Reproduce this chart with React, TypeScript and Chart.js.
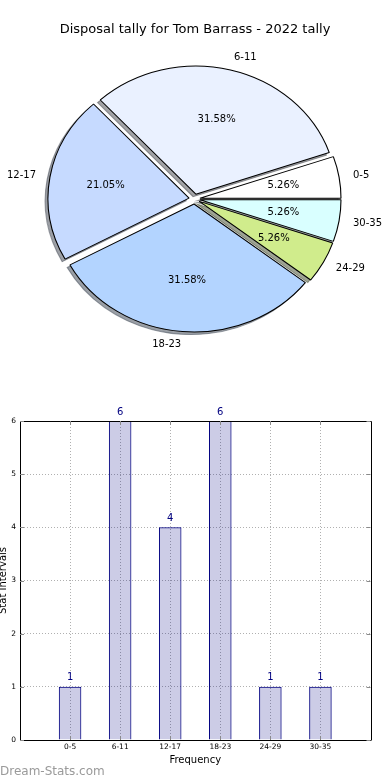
import React, { useEffect, useRef } from 'react';
import { Chart, registerables } from 'chart.js';

Chart.register(...registerables);

// ---- data ----
const TITLE = 'Disposal tally for Tom Barrass - 2022 tally';
const categories = ['0-5', '6-11', '12-17', '18-23', '24-29', '30-35'];
const counts = [1, 6, 4, 6, 1, 1];
const pieColors = ['#ffffff', '#eaf1ff', '#c6daff', '#b3d4ff', '#d0ec8c', '#d9ffff'];
const yTicks = [0, 1, 2, 3, 4, 5, 6];
const X_TITLE = 'Frequency';
const Y_TITLE = 'Stat Intervals';
const WATERMARK = 'Dream-Stats.com';

// pie is drawn counter-clockwise from east (matplotlib style): reverse for Chart.js (clockwise)
const pieLabels = [...categories].reverse();
const pieValues = [...counts].reverse();
const pieBg = [...pieColors].reverse();

// ---- style ----
const FONT = '"DejaVu Sans", "Bitstream Vera Sans", sans-serif';
const SX = 1.102; // horizontal stretch (elliptical pie)
const EXPLODE = 5;
const SHADOW_DX = -2.56;
const SHADOW_DY = 2.56;
const RADIUS = 128;

function shadowOf(hex: string) {
  const n = parseInt(hex.slice(1), 16);
  const r = (n >> 16) & 255, g = (n >> 8) & 255, b = n & 255;
  return `rgba(${Math.round(r * 0.3)},${Math.round(g * 0.3)},${Math.round(b * 0.3)},0.5)`;
}

const piePlugin = {
  id: 'mplPie',
  beforeDatasetDraw(chart: any, args: any) {
    const ctx = chart.ctx;
    const arcs = args.meta.data;
    if (!arcs.length) return false;
    const cx = arcs[0].x, cy = arcs[0].y;
    ctx.save();
    ctx.translate(cx, cy);
    ctx.scale(SX, 1);
    ctx.translate(-cx, -cy);
    arcs.forEach((a: any, i: number) => {
      const mid = (a.startAngle + a.endAngle) / 2;
      const ox = a.x + EXPLODE * Math.cos(mid) + SHADOW_DX;
      const oy = a.y + EXPLODE * Math.sin(mid) + SHADOW_DY;
      const sc = shadowOf(pieBg[i]);
      ctx.beginPath();
      ctx.moveTo(ox, oy);
      ctx.arc(ox, oy, a.outerRadius, a.startAngle, a.endAngle);
      ctx.closePath();
      ctx.fillStyle = sc;
      ctx.fill();
      ctx.strokeStyle = sc;
      ctx.lineWidth = 1;
      ctx.stroke();
    });
    arcs.forEach((a: any) => {
      const mid = (a.startAngle + a.endAngle) / 2;
      ctx.save();
      ctx.translate(EXPLODE * Math.cos(mid), EXPLODE * Math.sin(mid));
      a.draw(ctx);
      ctx.restore();
    });
    ctx.restore();
    return false;
  },
  afterDraw(chart: any) {
    const ctx = chart.ctx;
    const arcs = chart.getDatasetMeta(0).data;
    const total = pieValues.reduce((s, v) => s + v, 0);
    ctx.save();
    ctx.fillStyle = '#000';
    ctx.font = `13px ${FONT}`;
    ctx.textAlign = 'center';
    ctx.textBaseline = 'middle';
    ctx.fillText(TITLE, 195, 30);
    ctx.font = `10px ${FONT}`;
    arcs.forEach((a: any, i: number) => {
      const mid = (a.startAngle + a.endAngle) / 2;
      const c = Math.cos(mid), s = Math.sin(mid);
      const ex = EXPLODE * c, ey = EXPLODE * s;
      const R = a.outerRadius;
      const lx = a.x + SX * (ex + 1.1 * R * c);
      const ly = a.y + ey + 1.1 * R * s;
      ctx.textAlign = c > 0 ? 'left' : 'right';
      ctx.fillText(pieLabels[i], lx, ly);
      const px = a.x + SX * (ex + 0.6 * R * c);
      const py = a.y + ey + 0.6 * R * s;
      ctx.textAlign = 'center';
      ctx.fillText(((pieValues[i] / total) * 100).toFixed(2) + '%', px, py);
    });
    ctx.restore();
  },
};

const barPlugin = {
  id: 'mplBar',
  afterDraw(chart: any) {
    const ctx = chart.ctx;
    const { left, right, top, bottom } = chart.chartArea;
    const xs = chart.scales.x, ys = chart.scales.y;
    ctx.save();
    // frame top/right
    ctx.strokeStyle = '#000';
    ctx.lineWidth = 1;
    ctx.beginPath();
    ctx.moveTo(Math.round(left), Math.round(top) + 0.5);
    ctx.lineTo(Math.round(right) + 0.5, Math.round(top) + 0.5);
    ctx.lineTo(Math.round(right) + 0.5, Math.round(bottom) + 0.5);
    ctx.stroke();
    // inward ticks
    ctx.strokeStyle = '#8a8a8a';
    ctx.beginPath();
    yTicks.forEach((v) => {
      const y = Math.round(ys.getPixelForValue(v)) + 0.5;
      ctx.moveTo(left, y); ctx.lineTo(left + 4, y);
      ctx.moveTo(right, y); ctx.lineTo(right - 4, y);
    });
    categories.forEach((_, i) => {
      const x = Math.round(xs.getPixelForValue(i)) + 0.5;
      ctx.moveTo(x, top); ctx.lineTo(x, top + 4);
      ctx.moveTo(x, bottom); ctx.lineTo(x, bottom - 4);
    });
    ctx.stroke();
    // value labels
    ctx.fillStyle = '#000080';
    ctx.font = `10px ${FONT}`;
    ctx.textAlign = 'center';
    ctx.textBaseline = 'middle';
    counts.forEach((v, i) => {
      ctx.fillText(String(v), xs.getPixelForValue(i), ys.getPixelForValue(v) - 9);
    });
    // axis titles
    ctx.fillStyle = '#000';
    ctx.font = `10px ${FONT}`;
    ctx.fillText(X_TITLE, (left + right) / 2, 370);
    ctx.save();
    ctx.translate(6, (top + bottom) / 2);
    ctx.rotate(-Math.PI / 2);
    ctx.textBaseline = 'alphabetic';
    ctx.fillText(Y_TITLE, 0, 0);
    ctx.restore();
    // watermark
    ctx.fillStyle = '#9a9a9a';
    ctx.font = `12px ${FONT}`;
    ctx.textAlign = 'left';
    ctx.textBaseline = 'alphabetic';
    ctx.fillText(WATERMARK, 0, 385);
    ctx.restore();
  },
};

const borderOpts = { display: true, color: '#000', width: 1, dash: [1, 2] };

export default function App() {
  const pieRef = useRef<HTMLCanvasElement>(null);
  const barRef = useRef<HTMLCanvasElement>(null);

  useEffect(() => {
    const pie = new Chart(pieRef.current as HTMLCanvasElement, {
      type: 'pie',
      data: {
        labels: pieLabels,
        datasets: [
          {
            data: pieValues,
            backgroundColor: pieBg,
            borderColor: '#000',
            borderWidth: 1,
            clip: false,
          } as any,
        ],
      },
      options: {
        responsive: false,
        animation: false,
        events: [],
        rotation: 90,
        radius: RADIUS,
        layout: { padding: { top: 8, bottom: 0, left: 0, right: 1 } },
        plugins: { legend: { display: false }, tooltip: { enabled: false } },
      } as any,
      plugins: [piePlugin],
    });

    const bar = new Chart(barRef.current as HTMLCanvasElement, {
      type: 'bar',
      data: {
        datasets: [
          {
            data: counts.map((v, i) => ({ x: i, y: v })),
            backgroundColor: 'rgba(0,0,128,0.2)',
            borderColor: '#000080',
            borderWidth: 1,
            barPercentage: 0.45,
            categoryPercentage: 1,
          } as any,
        ],
      },
      options: {
        responsive: false,
        animation: false,
        events: [],
        layout: { padding: { top: 31, right: 19.5, left: 0, bottom: 0 } },
        plugins: { legend: { display: false }, tooltip: { enabled: false } },
        scales: {
          x: {
            type: 'linear',
            min: -1,
            max: 6,
            offset: false,
            afterBuildTicks: (s: any) => {
              s.ticks = categories.map((_, i) => ({ value: i }));
            },
            afterFit: (s: any) => {
              s.height = 40;
            },
            ticks: {
              callback: (v: any) => categories[v] ?? '',
              font: { family: FONT, size: 7.5 },
              color: '#000',
              padding: 3,
              maxRotation: 0,
              autoSkip: false,
            },
            grid: { color: '#b0b0b0', lineWidth: 1, drawTicks: false, offset: false },
            border: borderOpts,
          },
          y: {
            type: 'linear',
            min: 0,
            max: 6,
            afterBuildTicks: (s: any) => {
              s.ticks = yTicks.map((v) => ({ value: v }));
            },
            afterFit: (s: any) => {
              s.width = 20;
            },
            ticks: {
              font: { family: FONT, size: 7.5 },
              color: '#000',
              padding: 4,
            },
            grid: { color: '#b0b0b0', lineWidth: 1, drawTicks: false },
            border: borderOpts,
          },
        },
      } as any,
      plugins: [barPlugin],
    });

    return () => {
      pie.destroy();
      bar.destroy();
    };
  }, []);

  return (
    <div
      style={{
        position: 'absolute',
        left: 0,
        top: 0,
        width: 390,
        height: 780,
        background: '#fff',
        overflow: 'hidden',
      }}
    >
      <canvas
        ref={pieRef}
        width={390}
        height={390}
        style={{ position: 'absolute', left: 0, top: 0, width: 390, height: 390 }}
      />
      <canvas
        ref={barRef}
        width={390}
        height={390}
        style={{ position: 'absolute', left: 0, top: 390, width: 390, height: 390 }}
      />
    </div>
  );
}
